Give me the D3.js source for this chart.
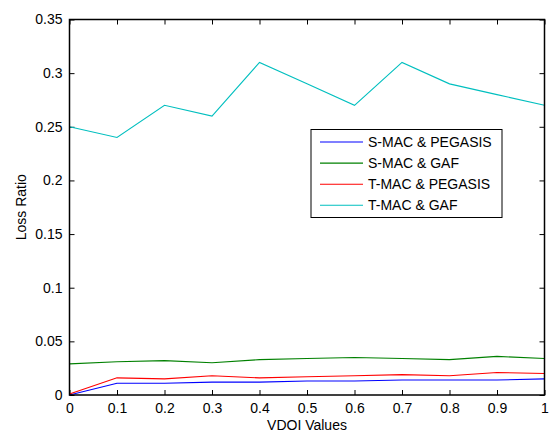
<!DOCTYPE html>
<html>
<head>
<meta charset="utf-8">
<script src="https://cdn.jsdelivr.net/npm/d3@7"></script>
<style>
  body { margin: 0; background: #fff; }
  svg text { font-family: "Liberation Sans", Arial, sans-serif; font-size: 14px; fill: #000; }
</style>
</head>
<body>
<svg id="chart" width="549" height="432"></svg>
<script>
// data
const vdoi = [0, 0.1, 0.2, 0.3, 0.4, 0.5, 0.6, 0.7, 0.8, 0.9, 1];
const smacPegasis = [0, 0.011, 0.011, 0.012, 0.012, 0.013, 0.013, 0.014, 0.014, 0.014, 0.015];
const smacGaf = [0.029, 0.031, 0.032, 0.030, 0.033, 0.034, 0.035, 0.034, 0.033, 0.036, 0.034];
const tmacPegasis = [0.001, 0.016, 0.015, 0.018, 0.016, 0.017, 0.018, 0.019, 0.018, 0.021, 0.020];
const tmacGaf = [0.25, 0.24, 0.27, 0.26, 0.31, 0.29, 0.27, 0.31, 0.29, 0.28, 0.27];
const xTicks = [0, 0.1, 0.2, 0.3, 0.4, 0.5, 0.6, 0.7, 0.8, 0.9, 1];
const yTicks = [0, 0.05, 0.1, 0.15, 0.2, 0.25, 0.3, 0.35];

const series = [
  { name: 'S-MAC & PEGASIS', values: smacPegasis, color: '#0000ff' },
  { name: 'S-MAC & GAF', values: smacGaf, color: '#008000' },
  { name: 'T-MAC & PEGASIS', values: tmacPegasis, color: '#ff0000' },
  { name: 'T-MAC & GAF', values: tmacGaf, color: '#00bfbf' },
];

const margin = { top: 19.5, right: 4.5, bottom: 37, left: 69.5 };
const width = 549 - margin.left - margin.right;
const height = 432 - margin.top - margin.bottom;

const svg = d3.select('#chart');
const g = svg.append('g')
  .attr('transform', `translate(${margin.left}, ${margin.top})`);

const x = d3.scaleLinear().domain([0, 1]).range([0, width]);
const y = d3.scaleLinear().domain([0, 0.35]).range([height, 0]);

const fmt = d => (d === 0 ? '0' : d === 1 ? '1' : String(+d.toFixed(2)));

// axes, ticks pointing inward, mirrored on top/right
const xAxis = d3.axisBottom(x).tickValues(xTicks).tickSizeInner(-5).tickSizeOuter(0).tickPadding(8).tickFormat(fmt);
const yAxis = d3.axisLeft(y).tickValues(yTicks).tickSizeInner(-5).tickSizeOuter(0).tickPadding(7).tickFormat(fmt);
const xTop = d3.axisTop(x).tickValues(xTicks).tickSizeInner(-5).tickSizeOuter(0).tickFormat('');
const yRight = d3.axisRight(y).tickValues(yTicks).tickSizeInner(-5).tickSizeOuter(0).tickFormat('');

const axis = g.append('g').attr('class', 'axis');
axis.append('g').attr('class', 'axis--x')
  .attr('transform', `translate(0, ${height})`)
  .call(xAxis);
axis.append('g').attr('class', 'axis--y').call(yAxis);
axis.append('g').attr('class', 'axis--top').call(xTop);
axis.append('g').attr('class', 'axis--right')
  .attr('transform', `translate(${width}, 0)`)
  .call(yRight);
axis.selectAll('.domain').remove();
axis.selectAll('.tick line').attr('stroke', '#000');
axis.selectAll('.tick text').style('font-size', '14px').attr('fill', '#000');

// lines
const line = d3.line()
  .x((d, i) => x(vdoi[i]))
  .y(d => y(d));

g.append('g').attr('class', 'lines')
  .selectAll('path')
  .data(series)
  .join('path')
  .attr('d', d => line(d.values))
  .attr('fill', 'none')
  .attr('stroke', d => d.color)
  .attr('stroke-width', 1.1);

// frame
g.append('rect')
  .attr('width', width)
  .attr('height', height)
  .attr('fill', 'none')
  .attr('stroke', '#000')
  .attr('stroke-width', 1.5);

// labels
svg.append('text')
  .attr('x', margin.left + width / 2)
  .attr('y', 430)
  .attr('text-anchor', 'middle')
  .text('VDOI Values');

svg.append('text')
  .attr('transform', `translate(26, ${margin.top + height / 2}) rotate(-90)`)
  .attr('text-anchor', 'middle')
  .text('Loss Ratio');

// legend
const legend = svg.append('g').attr('class', 'legend')
  .attr('transform', 'translate(311, 129.5)');
legend.append('rect')
  .attr('width', 191)
  .attr('height', 88)
  .attr('fill', '#fff')
  .attr('stroke', '#000')
  .attr('stroke-width', 1);

const item = legend.selectAll('.item')
  .data(series)
  .join('g')
  .attr('class', 'item')
  .attr('transform', (d, i) => `translate(0, ${12.5 + i * 21.1})`);
item.append('line')
  .attr('x1', 9).attr('x2', 52)
  .attr('stroke', d => d.color)
  .attr('stroke-width', 1.1);
item.append('text')
  .attr('x', 57)
  .attr('dy', '0.35em')
  .text(d => d.name);
</script>
</body>
</html>
